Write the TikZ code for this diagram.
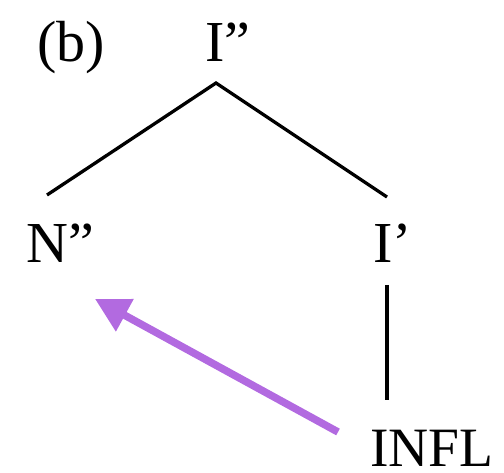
\documentclass[tikz,border=0pt]{standalone}
\usepackage{fontspec}
\setmainfont{Liberation Serif}
\usetikzlibrary{arrows.meta}
\definecolor{arrowpurple}{RGB}{178,106,224}
\tikzset{
  lbl/.style={anchor=base west, inner sep=0pt, font=\fontsize{58}{60}\selectfont},
  branch/.style={line width=3.3pt, line cap=butt},
  movearrow/.style={draw=arrowpurple, line width=7.5pt, -{Triangle[length=34pt,width=35pt]}}
}
\begin{document}
\begin{tikzpicture}[x=1pt,y=-1pt]
\useasboundingbox (0,0) rectangle (504,473);
\node[lbl] (lab) at (37,62) {(b)};
\node[lbl] (root) at (205,62) {I”};
\node[lbl] (nbar) at (26,263) {N”};
\node[lbl] (ibar) at (373,263) {I’};
\node[lbl, font=\fontsize{55.5}{60}\selectfont] (infl) at (370,466) {INFL};
\coordinate (apex) at (216,83);
\coordinate (nTop) at (47,195);
\coordinate (iTop) at (387,197);
\coordinate (iBot) at (387,285);
\coordinate (inflTop) at (387,400);
\coordinate (arrS) at (338,432);
\coordinate (arrE) at (95,299);
\draw[branch] (nTop) -- (apex) -- (iTop);
\draw[branch] (iBot) -- (inflTop);
\draw[movearrow] (arrS) -- (arrE);
\end{tikzpicture}
\end{document}
